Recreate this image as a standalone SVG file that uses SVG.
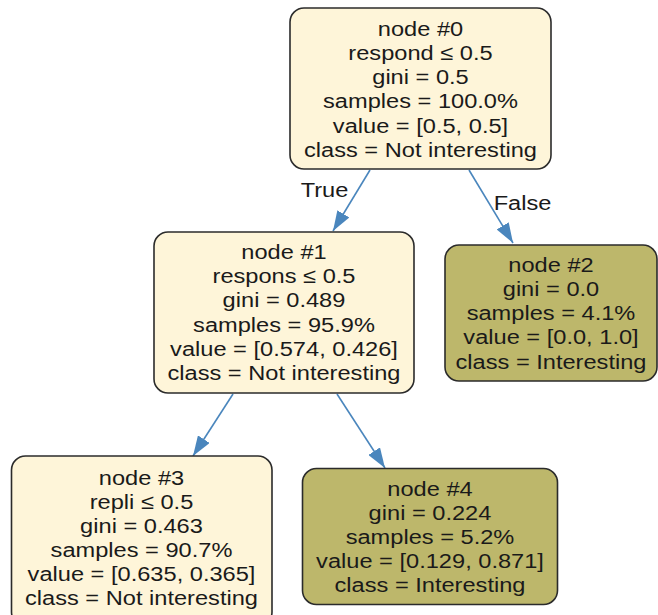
<svg xmlns="http://www.w3.org/2000/svg" width="658" height="615" viewBox="0 0 658 615">
<style>
.box{stroke:#2b2b2b;stroke-width:1.6}
.nf{fill:#fef5d9}
.ik{fill:#bdb76b}
text{font-family:"Liberation Sans",Arial,Helvetica,sans-serif;font-size:21px;fill:#1a1a1a;text-anchor:middle}
.edge{stroke:#4a86bd;stroke-width:1.6;fill:none}
</style>
<defs>
<marker id="ah" markerUnits="userSpaceOnUse" markerWidth="20" markerHeight="14" refX="20" refY="7" orient="auto">
<path d="M0,0 L20,7 L0,14 z" fill="#4a86bd"/>
</marker>
</defs>
<g id="connectors">
<line class="edge" x1="370" y1="170" x2="333" y2="231" marker-end="url(#ah)"/>
<line class="edge" x1="469" y1="170" x2="513" y2="243" marker-end="url(#ah)"/>
<line class="edge" x1="233" y1="394" x2="193" y2="456" marker-end="url(#ah)"/>
<line class="edge" x1="337" y1="394" x2="385" y2="468" marker-end="url(#ah)"/>
<g transform="translate(324.5,0) scale(1.125,1)"><text x="0" y="197">True</text></g>
<g transform="translate(522.5,0) scale(1.125,1)"><text x="0" y="210">False</text></g>
</g>
<g id="node0">
<rect class="box nf" x="290" y="8" width="261" height="161" rx="14"/>
<g transform="translate(420.5,0) scale(1.125,1)">
<text x="0" y="36">node #0</text>
<text x="0" y="60">respond ≤ 0.5</text>
<text x="0" y="84">gini = 0.5</text>
<text x="0" y="108.5">samples = 100.0%</text>
<text x="0" y="133">value = [0.5, 0.5]</text>
<text x="0" y="157">class = Not interesting</text>
</g>
</g>
<g id="node1">
<rect class="box nf" x="154" y="232" width="260" height="161" rx="14"/>
<g transform="translate(284,0) scale(1.125,1)">
<text x="0" y="259">node #1</text>
<text x="0" y="283">respons ≤ 0.5</text>
<text x="0" y="307">gini = 0.489</text>
<text x="0" y="332">samples = 95.9%</text>
<text x="0" y="356">value = [0.574, 0.426]</text>
<text x="0" y="380">class = Not interesting</text>
</g>
</g>
<g id="node2">
<rect class="box ik" x="445" y="245" width="212" height="136" rx="14"/>
<g transform="translate(551,0) scale(1.125,1)">
<text x="0" y="272">node #2</text>
<text x="0" y="296">gini = 0.0</text>
<text x="0" y="320">samples = 4.1%</text>
<text x="0" y="344.5">value = [0.0, 1.0]</text>
<text x="0" y="369">class = Interesting</text>
</g>
</g>
<g id="node3">
<rect class="box nf" x="11.5" y="456" width="260.5" height="170" rx="14"/>
<g transform="translate(141.5,0) scale(1.125,1)">
<text x="0" y="485">node #3</text>
<text x="0" y="509">repli ≤ 0.5</text>
<text x="0" y="533">gini = 0.463</text>
<text x="0" y="557">samples = 90.7%</text>
<text x="0" y="581">value = [0.635, 0.365]</text>
<text x="0" y="605">class = Not interesting</text>
</g>
</g>
<g id="node4">
<rect class="box ik" x="302.5" y="468.5" width="255" height="136" rx="14"/>
<g transform="translate(430,0) scale(1.125,1)">
<text x="0" y="496">node #4</text>
<text x="0" y="520">gini = 0.224</text>
<text x="0" y="544">samples = 5.2%</text>
<text x="0" y="568">value = [0.129, 0.871]</text>
<text x="0" y="592">class = Interesting</text>
</g>
</g>
</svg>
